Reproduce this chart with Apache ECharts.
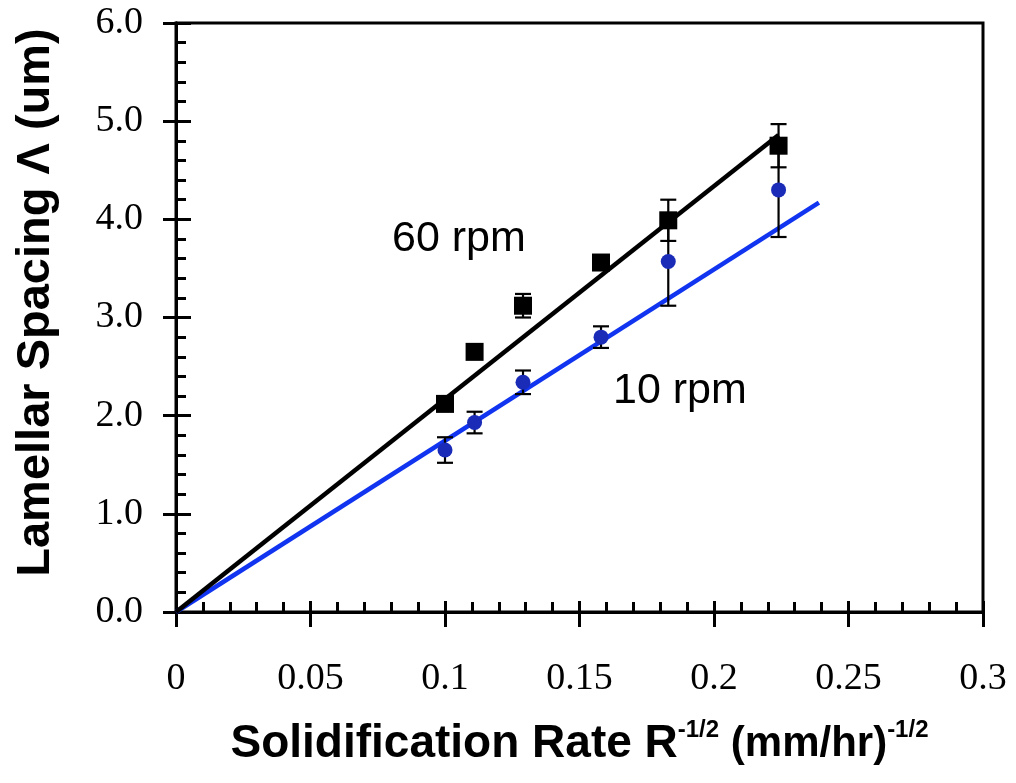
<!DOCTYPE html>
<html>
<head>
<meta charset="utf-8">
<script src="https://cdn.jsdelivr.net/npm/echarts@6/dist/echarts.min.js"></script>
<style>html,body{margin:0;padding:0;background:#fff}#c{width:1016px;height:783px}</style>
</head>
<body>
<div id="c"></div>
<script>
// Data
const xVals = [0.1, 0.111, 0.129, 0.158, 0.183, 0.224];
const y60 = [2.12, 2.65, 3.12, 3.56, 3.99, 4.75];
const err60 = [0.05, 0.05, 0.12, 0.05, 0.21, 0.22];
const y10 = [1.65, 1.93, 2.34, 2.80, 3.57, 4.30];
const err10 = [0.13, 0.11, 0.12, 0.11, 0.45, 0.48];
const fit60X = [0, 0.224];
const fit60Y = [0, 4.86];
const fit10X = [0, 0.239];
const fit10Y = [0, 4.17];
const seriesLabels = ['60 rpm', '10 rpm'];
const xTitle = ['Solidification Rate R', '-1/2', ' (mm/hr)', '-1/2'];
const yTitle = 'Lamellar Spacing \u039b (um)';

const pts = (xs, ys) => xs.map((x, i) => [x, ys[i]]);
const errPts = (xs, ys, es) => xs.map((x, i) => [x, ys[i], es[i]]);

function renderErr(params, api) {
  const x = api.value(0), y = api.value(1), e = api.value(2);
  const t = api.coord([x, y + e]);
  const b = api.coord([x, y - e]);
  const hw = 8;
  const st = { stroke: '#000', lineWidth: 2.2 };
  return {
    type: 'group',
    children: [
      { type: 'line', shape: { x1: t[0], y1: t[1], x2: b[0], y2: b[1] }, style: st },
      { type: 'line', shape: { x1: t[0] - hw, y1: t[1], x2: t[0] + hw, y2: t[1] }, style: st },
      { type: 'line', shape: { x1: b[0] - hw, y1: b[1], x2: b[0] + hw, y2: b[1] }, style: st }
    ]
  };
}

const chart = echarts.init(document.getElementById('c'), null, { renderer: 'canvas' });
const axisLine = { show: true, onZero: false, lineStyle: { color: '#000', width: 3 } };
const serif = 'Liberation Serif';
const sans = 'Liberation Sans';
const xNameTags = ['a', 's', 'b', 's'];

chart.setOption({
  animation: false,
  backgroundColor: '#fff',
  grid: { left: 176, right: 33, top: 23, bottom: 171, show: true, borderColor: '#000', borderWidth: 3, backgroundColor: 'transparent' },
  xAxis: [
    {
      type: 'value', min: 0, max: 0.3, interval: 0.05, position: 'bottom',
      axisLine: axisLine,
      axisTick: { show: true, inside: false, length: 15, lineStyle: { color: '#000', width: 3 } },
      minorTick: { show: false },
      splitLine: { show: false },
      axisLabel: { color: '#000', fontFamily: serif, fontSize: 38, margin: 48 },
      name: xTitle.map((t, i) => '{' + xNameTags[i] + '|' + t + '}').join(''),
      nameLocation: 'middle', nameGap: 106,
      nameTextStyle: {
        rich: {
          a: { fontFamily: sans, fontWeight: 'bold', fontSize: 46, color: '#000', lineHeight: 52 },
          b: { fontFamily: sans, fontWeight: 'bold', fontSize: 42, color: '#000', lineHeight: 52 },
          s: { fontFamily: sans, fontWeight: 'bold', fontSize: 24, color: '#000', verticalAlign: 'top' }
        }
      }
    },
    {
      type: 'value', min: 0, max: 0.3, interval: 0.05, position: 'bottom',
      axisLine: axisLine,
      axisTick: { show: true, inside: true, length: 11, lineStyle: { color: '#000', width: 3 } },
      minorTick: { show: true, splitNumber: 5, length: 10, lineStyle: { color: '#000', width: 3 } },
      splitLine: { show: false },
      axisLabel: { show: false }
    }
  ],
  yAxis: [
    {
      type: 'value', min: 0, max: 6, interval: 1, position: 'left',
      axisLine: axisLine,
      axisTick: { show: true, inside: false, length: 13, lineStyle: { color: '#000', width: 3 } },
      minorTick: { show: false },
      splitLine: { show: false },
      axisLabel: { color: '#000', fontFamily: serif, fontSize: 38, margin: 33, formatter: v => v.toFixed(1) },
      name: yTitle, nameLocation: 'middle', nameRotate: 90, nameGap: 116,
      nameTextStyle: { fontFamily: sans, fontWeight: 'bold', fontSize: 47, color: '#000', padding: [0, 0, 0, 30] }
    },
    {
      type: 'value', min: 0, max: 6, interval: 1, position: 'left',
      axisLine: axisLine,
      axisTick: { show: true, inside: true, length: 15, lineStyle: { color: '#000', width: 3 } },
      minorTick: { show: true, splitNumber: 5, length: 10, lineStyle: { color: '#000', width: 3 } },
      splitLine: { show: false },
      axisLabel: { show: false }
    }
  ],
  series: [
    {
      type: 'line', name: 'fit10', data: pts(fit10X, fit10Y), showSymbol: false, symbol: 'none',
      lineStyle: { color: '#1034f0', width: 4.5 }, z: 2
    },
    {
      type: 'line', name: 'fit60', data: pts(fit60X, fit60Y), showSymbol: false, symbol: 'none',
      lineStyle: { color: '#000', width: 4.5 }, z: 3
    },
    {
      type: 'custom', name: 'err10', data: errPts(xVals, y10, err10), renderItem: renderErr,
      encode: { x: 0, y: 1 }, z: 4
    },
    {
      type: 'custom', name: 'err60', data: errPts(xVals, y60, err60), renderItem: renderErr,
      encode: { x: 0, y: 1 }, z: 4
    },
    {
      type: 'scatter', name: seriesLabels[1], data: pts(xVals, y10), symbol: 'circle', symbolSize: 15,
      itemStyle: { color: '#1a2bb8', opacity: 1 }, z: 5
    },
    {
      type: 'scatter', name: seriesLabels[0], data: pts(xVals, y60), symbol: 'rect', symbolSize: 18,
      itemStyle: { color: '#000', opacity: 1 }, z: 6
    }
  ],
  graphic: [
    { type: 'text', left: 392, top: 218, style: { text: seriesLabels[0], font: '43px "Liberation Sans"', fill: '#000' } },
    { type: 'text', left: 613, top: 370, style: { text: seriesLabels[1], font: '43px "Liberation Sans"', fill: '#000' } }
  ]
});
</script>
</body>
</html>
